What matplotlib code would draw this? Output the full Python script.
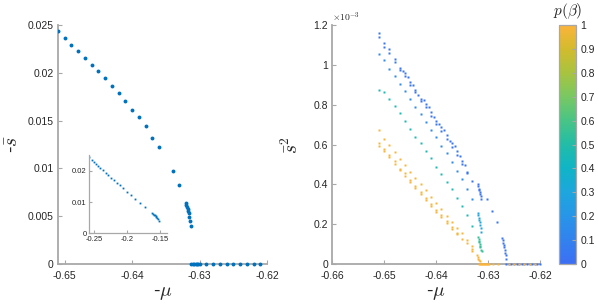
import numpy as np
import matplotlib
matplotlib.use("Agg")
import matplotlib.pyplot as plt
from matplotlib.colors import LinearSegmentedColormap, Normalize
from matplotlib.colorbar import ColorbarBase
from matplotlib.patches import Rectangle

plt.rcParams["font.family"] = ["Liberation Sans", "DejaVu Sans"]
plt.rcParams["mathtext.fontset"] = "cm"

# ---- left panel: mean s vs -mu ----
mu_left = [-0.651, -0.650, -0.649, -0.648, -0.647, -0.646, -0.645, -0.644, -0.643,
           -0.642, -0.641, -0.640, -0.639, -0.638, -0.637, -0.636, -0.635, -0.634,
           -0.633, -0.63206, -0.63195, -0.63186, -0.63176, -0.63165, -0.63161,
           -0.6315, -0.63142, -0.63131]
s_left = [0.02441, 0.02365, 0.02288, 0.02229, 0.02153, 0.02083, 0.02017, 0.01948,
          0.01868, 0.01785, 0.01705, 0.01615, 0.01535, 0.01441, 0.01323, 0.01226,
          0.01106, 0.00976, 0.0083, 0.00643, 0.00615, 0.00597, 0.00573, 0.00552,
          0.00531, 0.0049, 0.00448, 0.00403]
mu_left_zero = [-0.6312, -0.6310, -0.6308, -0.6306, -0.6304, -0.6302, -0.6300,
                -0.629, -0.628, -0.627, -0.626, -0.625, -0.624, -0.623, -0.622, -0.621]

# inset: same s values against the other variable
inset_x = [-0.2576, -0.2539, -0.2505, -0.2474, -0.2444, -0.2409, -0.2368, -0.2323,
           -0.2288, -0.2242, -0.2197, -0.2156, -0.2111, -0.2061, -0.2009, -0.1948,
           -0.1888, -0.1812, -0.1721, -0.1615, -0.1603, -0.1592, -0.1580, -0.1568,
           -0.1557, -0.1545, -0.1532, -0.1520]

# ---- right panel: mean s^2 (x1e-3) vs -mu, coloured by p(beta) ----
mu_a = [-0.651, -0.651, -0.650, -0.650, -0.649, -0.649, -0.648, -0.648, -0.647, -0.647,
        -0.6464, -0.646, -0.646, -0.6454, -0.645, -0.645, -0.6444, -0.644, -0.644,
        -0.6434, -0.643, -0.643, -0.6424, -0.642, -0.642, -0.6414, -0.641, -0.641,
        -0.6404, -0.640, -0.640, -0.6394, -0.639, -0.639, -0.6384, -0.638, -0.638,
        -0.6374, -0.637, -0.637, -0.6363, -0.636, -0.636, -0.6354, -0.635, -0.635,
        -0.6344, -0.634, -0.634, -0.633,
        -0.6320, -0.6319, -0.6318, -0.6317, -0.6316, -0.6315, -0.6314, -0.6314,
        -0.6302, -0.6292, -0.6282,
        -0.6273, -0.6272, -0.6271, -0.6270, -0.6269, -0.6268, -0.6267, -0.6266, -0.6266]
s2_a = [1.160, 1.140, 1.108, 1.088, 1.078, 1.058, 1.029, 1.017, 0.984, 0.976,
        0.970, 0.957, 0.946, 0.939, 0.914, 0.898, 0.900, 0.872, 0.862,
        0.848, 0.829, 0.819, 0.822, 0.803, 0.788, 0.788, 0.765, 0.746,
        0.736, 0.718, 0.703, 0.701, 0.686, 0.669, 0.671, 0.648, 0.628,
        0.616, 0.607, 0.590, 0.592, 0.569, 0.549, 0.545, 0.520, 0.505,
        0.500, 0.463, 0.458, 0.418,
        0.400, 0.390, 0.378, 0.370, 0.360, 0.350, 0.340, 0.325,
        0.328, 0.268, 0.211,
        0.132, 0.120, 0.107, 0.095, 0.084, 0.070, 0.057, 0.044, 0.027]
p_a = 0.03

mu_b = [-0.651, -0.650, -0.649, -0.648, -0.647, -0.646, -0.645, -0.644, -0.643, -0.642,
        -0.641, -0.640, -0.639, -0.638, -0.637, -0.636, -0.635, -0.634, -0.633]
s2_b = [1.054, 1.027, 0.980, 0.943, 0.904, 0.870, 0.828, 0.789, 0.754, 0.713,
        0.675, 0.636, 0.594, 0.559, 0.514, 0.467, 0.427, 0.378, 0.326]
p_b = 0.15

mu_b_end = [-0.6320, -0.6319, -0.6318, -0.6317, -0.6316, -0.6315, -0.6314, -0.6313]
s2_b_end = [0.258, 0.246, 0.233, 0.222, 0.210, 0.196, 0.182, 0.161]
p_b_end = 0.3

mu_c = [-0.651, -0.650, -0.649, -0.648, -0.647, -0.646, -0.645, -0.644, -0.643, -0.642,
        -0.641, -0.640, -0.639, -0.638, -0.637, -0.636, -0.635, -0.634, -0.633]
s2_c = [0.875, 0.865, 0.828, 0.792, 0.757, 0.718, 0.680, 0.639, 0.610, 0.569,
        0.531, 0.489, 0.452, 0.413, 0.376, 0.334, 0.293, 0.246, 0.192]
p_c = 0.47

mu_c_end = [-0.6319, -0.6318, -0.6318, -0.6317, -0.6316, -0.6315, -0.6315, -0.6314, -0.6312]
s2_c_end = [0.134, 0.125, 0.117, 0.109, 0.100, 0.092, 0.084, 0.071, 0.064]
p_c_end = 0.55

mu_o = [-0.651, -0.650, -0.649, -0.648, -0.647, -0.646, -0.645, -0.644, -0.643, -0.642,
        -0.641, -0.640, -0.639, -0.638, -0.637, -0.636, -0.635, -0.634, -0.633,
        -0.651, -0.651, -0.650, -0.650, -0.649, -0.649, -0.648, -0.648, -0.647, -0.647,
        -0.646, -0.646, -0.645, -0.645, -0.644, -0.644, -0.643, -0.643, -0.642, -0.642,
        -0.641, -0.641, -0.640, -0.640, -0.639, -0.639, -0.638, -0.638, -0.637, -0.637,
        -0.636, -0.636, -0.635, -0.634, -0.633, -0.633,
        -0.6322, -0.6320, -0.6319, -0.6318, -0.6316]
s2_o = [0.673, 0.629, 0.597, 0.564, 0.529, 0.500, 0.464, 0.432, 0.403, 0.371,
        0.338, 0.308, 0.275, 0.243, 0.213, 0.183, 0.154, 0.120, 0.090,
        0.609, 0.592, 0.577, 0.567, 0.547, 0.536, 0.516, 0.502, 0.479, 0.472,
        0.455, 0.442, 0.422, 0.410, 0.393, 0.382, 0.363, 0.351, 0.330, 0.320,
        0.301, 0.291, 0.271, 0.263, 0.245, 0.234, 0.216, 0.207, 0.185, 0.176,
        0.154, 0.149, 0.126, 0.104, 0.074, 0.067,
        0.045, 0.034, 0.027, 0.020, 0.017]
p_o = 1.0

mu_zero_blue = [-0.6265, -0.6260, -0.6255, -0.6250, -0.6245, -0.6240, -0.6235, -0.6230,
                -0.6225, -0.6220, -0.6215, -0.6210, -0.6205, -0.6200]
mu_zero_orange = [-0.6318, -0.6316, -0.6314, -0.6312, -0.6310, -0.6308, -0.6306, -0.6304,
                  -0.6302, -0.6300, -0.6298, -0.629, -0.628, -0.626, -0.625, -0.624,
                  -0.623, -0.622, -0.621]

cbar_ticks = [0, 0.1, 0.2, 0.3, 0.4, 0.5, 0.6, 0.7, 0.8, 0.9, 1]
cmap_colors = ["#3d6ff3", "#3282ee", "#2895e8", "#1ea6dd", "#10b4c6", "#22bca8",
               "#48c486", "#78c863", "#a8c340", "#d2bb2e", "#fbb43a"]

cmap = LinearSegmentedColormap.from_list("parula_part", cmap_colors)
norm = Normalize(0, 1)

spine_c = "#a8a8a8"
text_c = "#262626"


def style(ax, fs=7.5):
    for side in ("top", "right"):
        ax.spines[side].set_visible(False)
    for side in ("left", "bottom"):
        ax.spines[side].set_color(spine_c)
        ax.spines[side].set_linewidth(1.3)
    ax.tick_params(direction="in", length=3, width=0.8, color=spine_c,
                   labelsize=fs, labelcolor=text_c, pad=3)
    ax.tick_params(axis="x", pad=5)


fig = plt.figure(figsize=(5.98, 3.06), dpi=100)

# left
ax1 = fig.add_axes([0.097, 0.137, 0.3495, 0.781])
ax1.plot(mu_left, s_left, "o", ms=2.8, color="#0072BD", mec="none", zorder=3)
ax1.plot(mu_left_zero, np.zeros(len(mu_left_zero)), "o", ms=2.8, color="#0072BD", mec="none",
         clip_on=False, zorder=3)
ax1.set_xlim(-0.651, -0.62)
ax1.set_ylim(0, 0.025)
ax1.set_xticks([-0.65, -0.64, -0.63, -0.62])
ax1.set_xticklabels(["-0.65", "-0.64", "-0.63", "-0.62"])
ax1.set_yticks([0, 0.005, 0.01, 0.015, 0.02, 0.025])
ax1.set_yticklabels(["0", "0.005", "0.01", "0.015", "0.02", "0.025"])
style(ax1)
ax1.set_xlabel(r"-$\mu$", fontsize=14, color=text_c, labelpad=3)
ax1.set_ylabel(r"-$\bar{s}$", fontsize=14, color=text_c, labelpad=4)

# inset (white backing so it hides the main curve behind it)
fig.patches.append(Rectangle((0.143, 0.225), 0.142, 0.283, transform=fig.transFigure,
                             facecolor="white", edgecolor="none", zorder=4))
axi = fig.add_axes([0.1493, 0.2376, 0.1304, 0.2549])
axi.set_zorder(5)
axi.plot(inset_x, s_left, "s", ms=1.3, color="#0072BD", mec="none")
axi.set_xlim(-0.2576, -0.139)
axi.set_ylim(0, 0.025)
axi.set_xticks([-0.25, -0.2, -0.15])
axi.set_xticklabels(["-0.25", "-0.2", "-0.15"])
axi.set_yticks([0, 0.01, 0.02])
axi.set_yticklabels(["0", "0.01", "0.02"])
style(axi, fs=5.5)
axi.tick_params(length=2, pad=2)
for side in ("left", "bottom"):
    axi.spines[side].set_linewidth(0.9)

# right
ax2 = fig.add_axes([0.5557, 0.137, 0.3473, 0.781])
msz = 1.7
groups = [(mu_a, s2_a, p_a), (mu_b, s2_b, p_b), (mu_b_end, s2_b_end, p_b_end),
          (mu_c, s2_c, p_c), (mu_c_end, s2_c_end, p_c_end), (mu_o, s2_o, p_o)]
for xs, ys, p in groups:
    ax2.plot(xs, ys, "s", ms=msz, color=cmap(norm(p)), mec="none", zorder=3)
ax2.plot(mu_zero_blue, np.zeros(len(mu_zero_blue)), "s", ms=msz, color=cmap(norm(p_a)),
         mec="none", clip_on=False, zorder=3)
ax2.plot(mu_zero_orange, np.zeros(len(mu_zero_orange)), "s", ms=msz, color=cmap(norm(p_o)),
         mec="none", clip_on=False, zorder=3)
ax2.set_xlim(-0.66, -0.62)
ax2.set_ylim(0, 1.2)
ax2.set_xticks([-0.66, -0.65, -0.64, -0.63, -0.62])
ax2.set_xticklabels(["-0.66", "-0.65", "-0.64", "-0.63", "-0.62"])
ax2.set_yticks([0, 0.2, 0.4, 0.6, 0.8, 1.0, 1.2])
ax2.set_yticklabels(["0", "0.2", "0.4", "0.6", "0.8", "1", "1.2"])
style(ax2)
ax2.set_xlabel(r"-$\mu$", fontsize=14, color=text_c, labelpad=3)
ax2.set_ylabel(r"$\bar{s}^2$", fontsize=14, color=text_c, labelpad=8)
ax2.text(0.0, 1.005, r"$\times10^{-3}$", transform=ax2.transAxes, fontsize=7,
         color=text_c, ha="left", va="bottom")

# colorbar
cax = fig.add_axes([0.9353, 0.137, 0.0279, 0.781])
cb = ColorbarBase(cax, cmap=cmap, norm=norm, ticks=cbar_ticks)
cb.set_ticklabels(["0", "0.1", "0.2", "0.3", "0.4", "0.5", "0.6", "0.7", "0.8", "0.9", "1"])
cb.outline.set_edgecolor(spine_c)
cb.outline.set_linewidth(0.9)
cax.tick_params(direction="in", length=3, width=0.8, color=spine_c, labelsize=7.5,
                labelcolor=text_c, pad=3)
fig.text(0.949, 1 - 15 / 306, r"$p(\beta)$", fontsize=11, ha="center",
         va="baseline", color=text_c)

fig.savefig("out.png", dpi=100)
